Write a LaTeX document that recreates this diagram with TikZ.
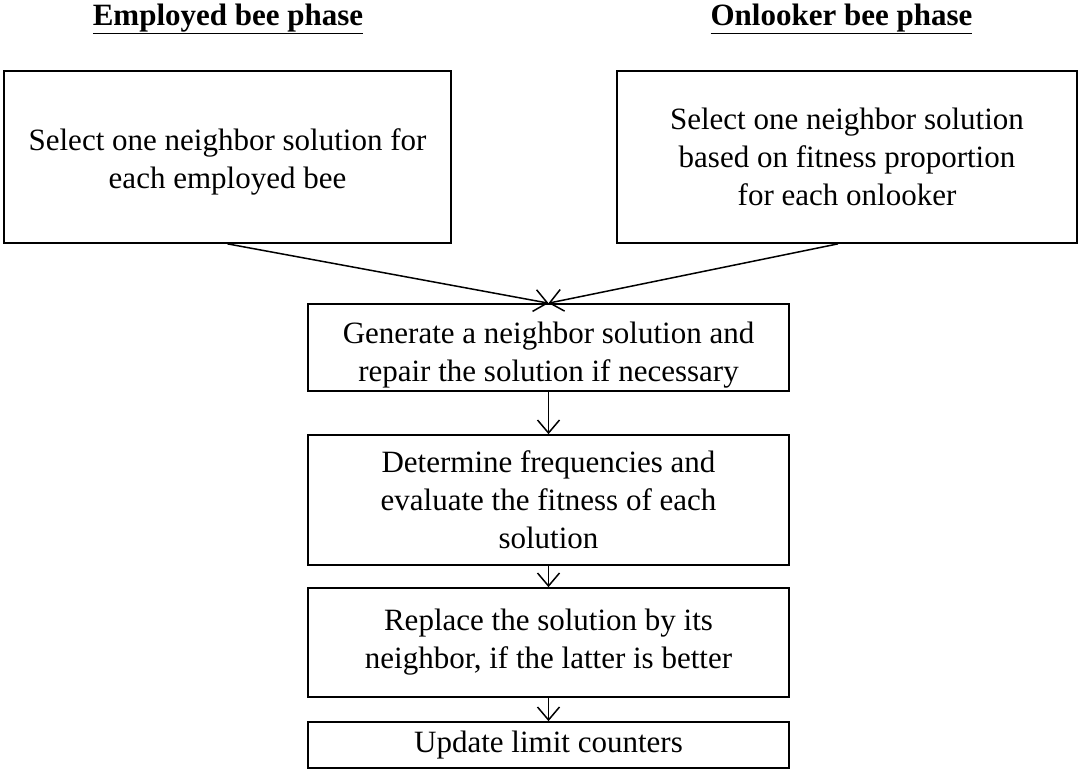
\documentclass[tikz,border=0pt]{standalone}
\usepackage{fontspec}
\setmainfont{Liberation Serif}
\usetikzlibrary{arrows.meta,positioning}

\begin{document}
\begin{tikzpicture}[x=1pt,y=-1pt,
  every node/.style={font=\fontsize{31}{38}\selectfont},
  stepbox/.style={draw, line width=1.7pt, align=center, inner sep=0pt},
  phasetitle/.style={anchor=base, font=\fontsize{31}{38}\selectfont\bfseries},
  flow/.style={line width=1.5pt, -{Straight Barb[length=13pt,width=22pt,line width=1.5pt]}}
]
\useasboundingbox (0,0) rectangle (1081,780);

% phase headings
\node[phasetitle] (t1) at (228,25) {\underline{Employed bee phase}};
\node[phasetitle] (t2) at (841.5,25) {\underline{Onlooker bee phase}};

% neighbour selection boxes
\node[stepbox, minimum width=447pt, minimum height=172pt] (lb) at (227.5,157)
  {\rule{0pt}{32pt}Select one neighbor solution for\\each employed bee};
\node[stepbox, minimum width=460pt, minimum height=172pt] (rb) at (847,157)
  {Select one neighbor solution\\based on fitness proportion\\for each onlooker};

% common steps
\node[stepbox, minimum width=481pt, minimum height=87pt] (b1) at (548.5,347.5)
  {\rule{0pt}{37pt}Generate a neighbor solution and\\repair the solution if necessary};
\node[stepbox, minimum width=481pt, minimum height=130pt] (b2) at (548.5,500)
  {Determine frequencies and\\evaluate the fitness of each\\solution};
\node[stepbox, minimum width=481pt, minimum height=109pt] (b3) at (548.5,642.5)
  {Replace the solution by its\\neighbor, if the latter is better};
\node[stepbox, minimum width=481pt, minimum height=46pt] (b4) at (548.5,745)
  {Update limit counters};

% connectors
\coordinate (rs) at ([xshift=-9pt]rb.south);
\draw[flow] (lb.south) -- (b1.north);
\draw[flow] (rs) -- (b1.north);
\draw[flow] (b1) -- (b2);
\draw[flow] (b2) -- (b3);
\draw[flow] (b3) -- (b4);
\end{tikzpicture}
\end{document}
